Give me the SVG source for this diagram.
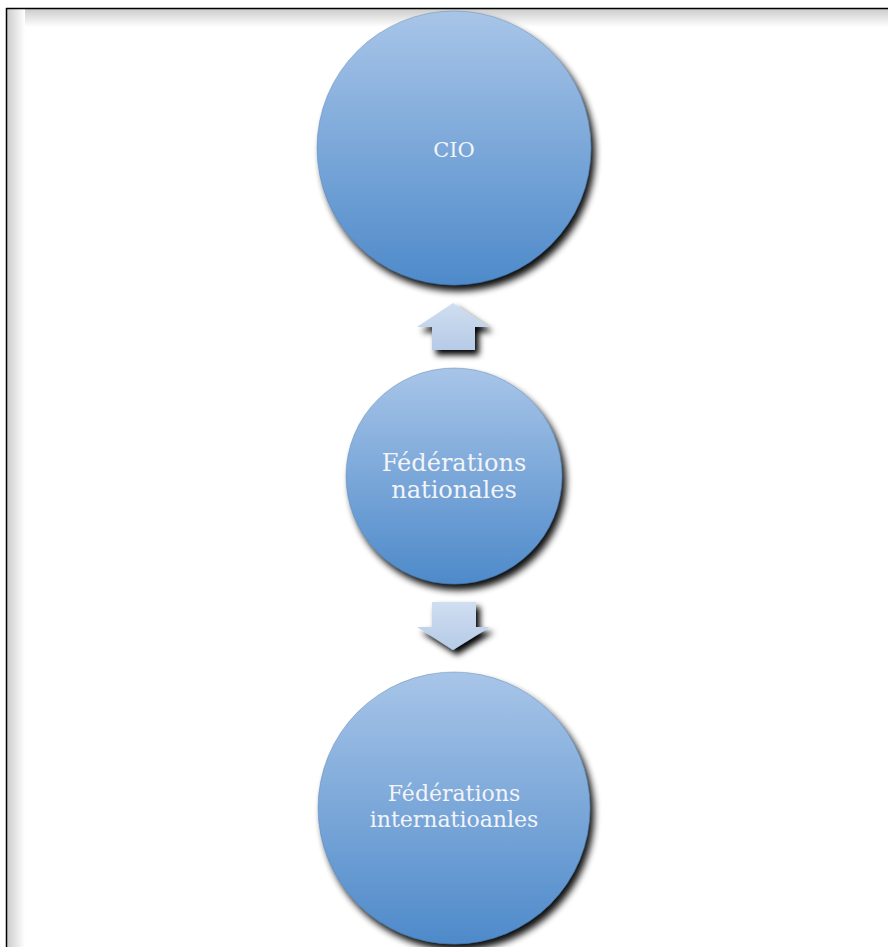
<svg xmlns="http://www.w3.org/2000/svg" width="888" height="947" viewBox="0 0 888 947">
  <defs>
    <linearGradient id="ball" x1="0" y1="0" x2="0" y2="1">
      <stop offset="0" stop-color="#a8c5e8"/>
      <stop offset="1" stop-color="#4e8aca"/>
    </linearGradient>
    <linearGradient id="arr" x1="0" y1="0" x2="0" y2="1">
      <stop offset="0" stop-color="#cfdef1"/>
      <stop offset="1" stop-color="#b6cbe7"/>
    </linearGradient>
    <linearGradient id="frameTop" x1="0" y1="0" x2="0" y2="1">
      <stop offset="0" stop-color="#cccccc"/>
      <stop offset="1" stop-color="#ffffff"/>
    </linearGradient>
    <linearGradient id="frameLeft" x1="0" y1="0" x2="1" y2="0">
      <stop offset="0" stop-color="#cccccc"/>
      <stop offset="1" stop-color="#ffffff"/>
    </linearGradient>
    <filter id="shadow" x="-20%" y="-20%" width="140%" height="140%">
      <feGaussianBlur in="SourceAlpha" stdDeviation="3.5"/>
      <feOffset dx="4" dy="6"/>
      <feComponentTransfer><feFuncA type="linear" slope="0.95"/></feComponentTransfer>
      <feMerge><feMergeNode/><feMergeNode in="SourceGraphic"/></feMerge>
    </filter>
    <filter id="ashadow" x="-30%" y="-30%" width="160%" height="160%">
      <feGaussianBlur in="SourceAlpha" stdDeviation="3"/>
      <feOffset dx="4" dy="5"/>
      <feComponentTransfer><feFuncA type="linear" slope="1"/></feComponentTransfer>
      <feMerge><feMergeNode/><feMergeNode in="SourceGraphic"/></feMerge>
    </filter>
  </defs>
  <style>
    .ball { fill: url(#ball); stroke: #3d6e9e; stroke-opacity: 0.35; stroke-width: 1; filter: url(#shadow); }
    .arrow { fill: url(#arr); filter: url(#ashadow); }
    .lbl { font-family: "DejaVu Serif", "Liberation Serif", serif; fill: #f2f4f8; text-anchor: middle; }
  </style>
  <rect width="888" height="947" fill="#ffffff"/>
  <g id="frame">
    <rect x="7" y="9" width="881" height="18" fill="url(#frameTop)"/>
    <rect x="7" y="9" width="18" height="938" fill="url(#frameLeft)"/>
    <line x1="6" y1="8.5" x2="888" y2="8.5" stroke="#000" stroke-width="1.5"/>
    <line x1="6.5" y1="8" x2="6.5" y2="947" stroke="#000" stroke-width="1.5"/>
  </g>
  <g id="connectors">
    <path class="arrow" d="M453,303 L489,327 L475,327 L475,350 L432,350 L432,327 L417,327 Z"/>
    <path class="arrow" d="M432,602 L476,602 L476,627 L490,627 L453,650 L417,627 L432,627 Z"/>
  </g>
  <g id="node-cio">
    <circle class="ball" cx="454" cy="148" r="137"/>
    <text class="lbl" x="454" y="157" font-size="21">CIO</text>
  </g>
  <g id="node-nationales">
    <circle class="ball" cx="454" cy="476" r="108"/>
    <text class="lbl" x="454" y="471" font-size="24">Fédérations</text>
    <text class="lbl" x="454" y="498" font-size="24">nationales</text>
  </g>
  <g id="node-internationales">
    <circle class="ball" cx="454" cy="808" r="136"/>
    <text class="lbl" x="454" y="801" font-size="22">Fédérations</text>
    <text class="lbl" x="454" y="827" font-size="22">internatioanles</text>
  </g>
</svg>
